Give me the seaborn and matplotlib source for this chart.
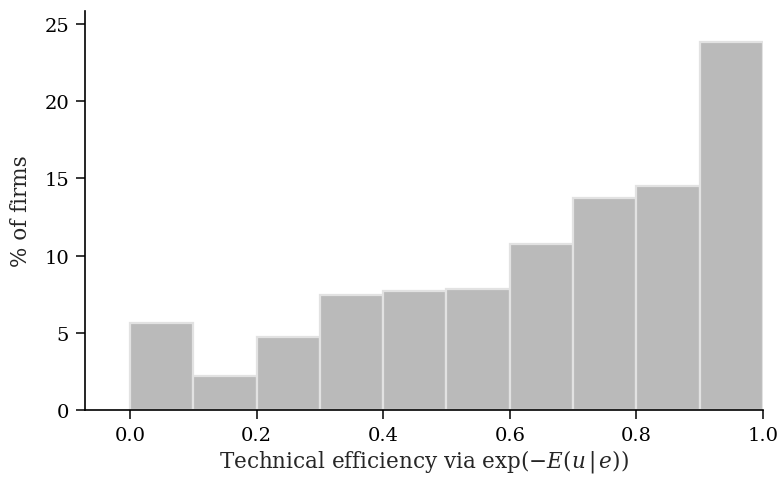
import numpy as np
import pandas as pd
import matplotlib
matplotlib.use("Agg")
import matplotlib.pyplot as plt
import seaborn as sns

# Data
bin_edges = [0.0, 0.1, 0.2, 0.3, 0.4, 0.5, 0.6, 0.7, 0.8, 0.9, 1.0]
bin_centers = [0.05, 0.15, 0.25, 0.35, 0.45, 0.55, 0.65, 0.75, 0.85, 0.95]
pct_firms = [5.62, 2.22, 4.71, 7.47, 7.73, 7.82, 10.73, 13.71, 14.53, 23.81]
x_ticks = [0.0, 0.2, 0.4, 0.6, 0.8, 1.0]
x_tick_labels = ["0.0", "0.2", "0.4", "0.6", "0.8", "1.0"]
y_ticks = [0, 5, 10, 15, 20, 25]

sns.set_style("ticks")
plt.rcParams['font.family'] = ['DejaVu Serif']
plt.rcParams['mathtext.fontset'] = 'dejavuserif'

df = pd.DataFrame({"x": bin_centers, "w": pct_firms})

fig = plt.figure(figsize=(7.78, 4.81), dpi=100)
ax = fig.add_axes([85/778, 70/481, (763-85)/778, (411-12)/481])

sns.histplot(data=df, x="x", weights="w", bins=bin_edges, ax=ax,
             color="#bababa", alpha=1.0, edgecolor="#e2e2e2", linewidth=1.6)

ax.set_xlim(-0.071, 1.0)
ax.set_ylim(0, 25.84)
ax.set_xticks(x_ticks)
ax.set_xticklabels(x_tick_labels)
ax.set_yticks(y_ticks)
ax.tick_params(axis="both", labelsize=14, length=6.5, width=1.1, color="black",
               labelcolor="black", direction="out", pad=5)
for s in ["top", "right"]:
    ax.spines[s].set_visible(False)
for s in ["left", "bottom"]:
    ax.spines[s].set_linewidth(1.2)
    ax.spines[s].set_color("black")

ax.set_xlabel(r"Technical efficiency via exp($-E$($u\,|\,e$))", fontsize=15.5, labelpad=2)
ax.set_ylabel("% of firms", fontsize=15.5, labelpad=9)

fig.savefig("out.png", dpi=100)
